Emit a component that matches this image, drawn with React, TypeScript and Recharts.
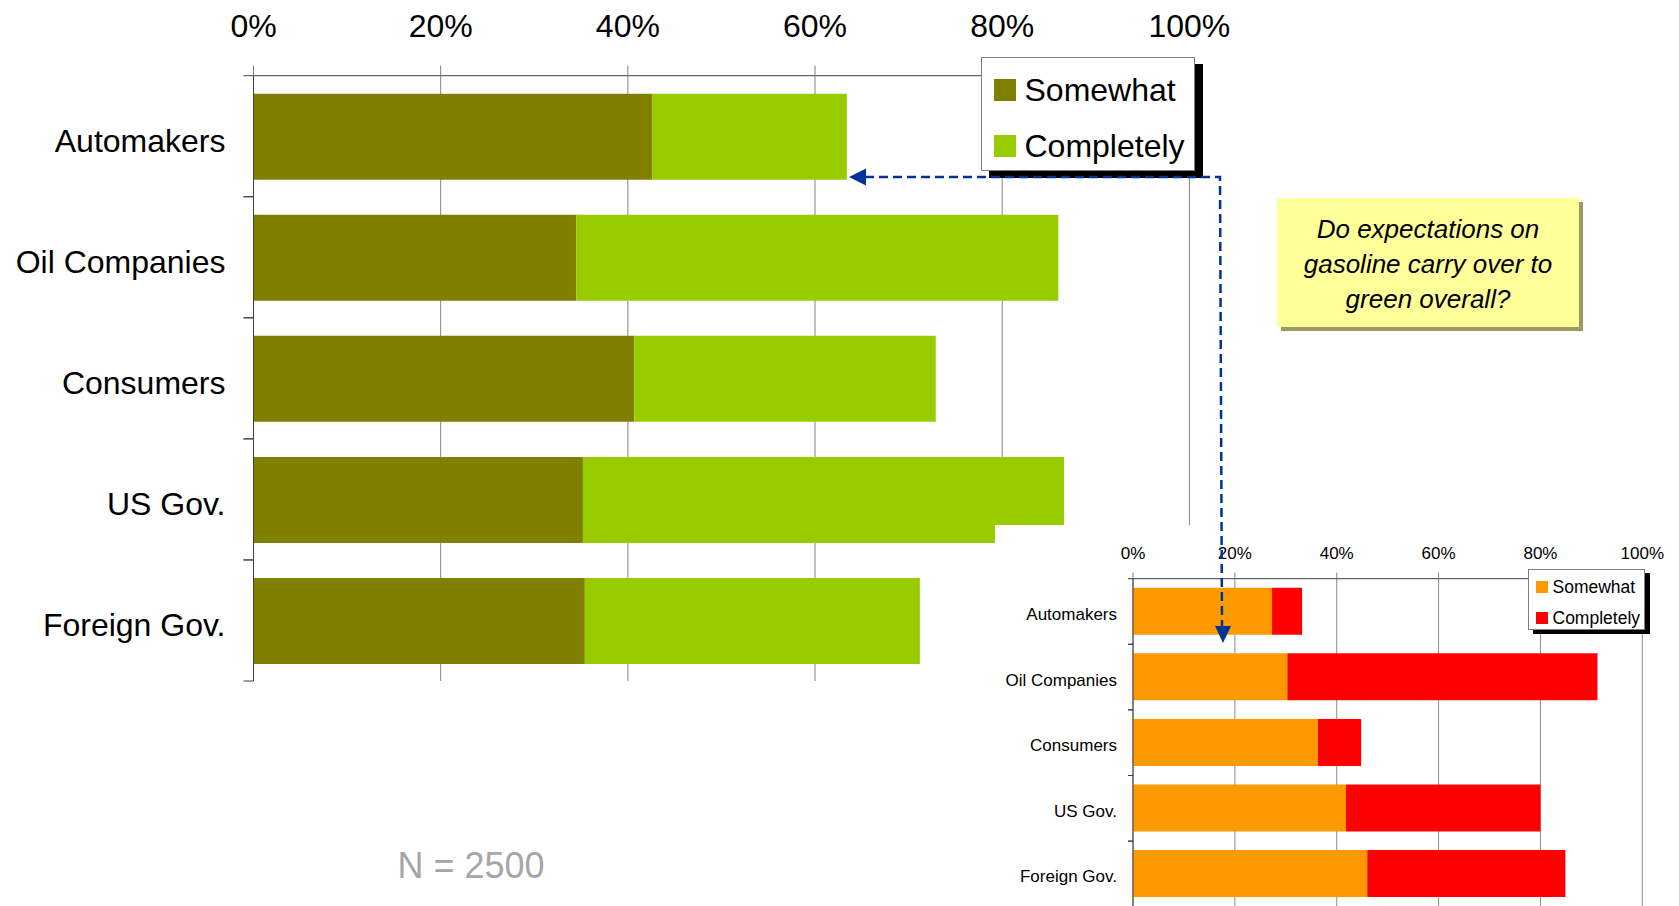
import { BarChart, Bar, XAxis, YAxis, CartesianGrid } from 'recharts'

const FONT = '"Liberation Sans", Arial, sans-serif'

const categories = ['Automakers', 'Oil Companies', 'Consumers', 'US Gov.', 'Foreign Gov.']
const pctTicks = [0, 20, 40, 60, 80, 100]
const seriesNames = ['Somewhat', 'Completely']

// big chart (percent of respondents)
const mainSomewhat = [42.6, 34.5, 40.7, 35.2, 35.4]
const mainCompletely = [20.8, 51.5, 32.2, 51.4, 35.8]
const mainColors = ['#808000', '#99cc00']

// inset chart
const insetSomewhat = [27.3, 30.3, 36.3, 41.8, 46.0]
const insetCompletely = [5.9, 60.9, 8.5, 38.2, 38.9]
const insetColors = ['#ff9900', '#ff0000']

const noteLines = ['Do expectations on', 'gasoline carry over to', 'green overall?']
const sampleNote = 'N = 2500'

const mainData = categories.map((name, i) => ({
  name,
  somewhat: mainSomewhat[i],
  completely: mainCompletely[i],
}))

const insetData = categories.map((name, i) => ({
  name,
  somewhat: insetSomewhat[i],
  completely: insetCompletely[i],
}))

// Excel puts the category tick marks between the bars, so draw them by hand
function CategoryTick(props: any) {
  const { x, y, payload, labelSize, labelGap, tickLen, half, baseShift } = props
  return (
    <g>
      <line x1={x - tickLen} x2={x} y1={y - half} y2={y - half} stroke="#404040" />
      <line x1={x - tickLen} x2={x} y1={y + half} y2={y + half} stroke="#404040" />
      <text
        x={x - labelGap}
        y={y + baseShift}
        textAnchor="end"
        fontSize={labelSize}
        fontFamily={FONT}
        fill="#000"
      >
        {payload.value}
      </text>
    </g>
  )
}

interface LegendBoxProps {
  colors: string[]
  style: React.CSSProperties
  fontSize: number
  swatch: number
  swatchLeft: number
  textLeft: number
  rows: number[]
}

function LegendBox({ colors, style, fontSize, swatch, swatchLeft, textLeft, rows }: LegendBoxProps) {
  return (
    <div
      style={{
        position: 'absolute',
        background: '#fff',
        border: '1px solid #7f7f7f',
        boxSizing: 'border-box',
        ...style,
      }}
    >
      {seriesNames.map((name, i) => (
        <div key={name}>
          <div
            style={{
              position: 'absolute',
              left: swatchLeft,
              top: rows[i] - swatch / 2,
              width: swatch,
              height: swatch,
              background: colors[i],
            }}
          />
          <div
            style={{
              position: 'absolute',
              left: textLeft,
              top: rows[i] - fontSize * 0.6,
              fontSize,
              lineHeight: `${fontSize * 1.2}px`,
              whiteSpace: 'nowrap',
              color: '#000',
            }}
          >
            {name}
          </div>
        </div>
      ))}
    </div>
  )
}

export default function App() {
  const mainHalf = (681 - 75.7) / categories.length / 2
  const insetHalf = 328 / categories.length / 2

  return (
    <div
      style={{
        position: 'absolute',
        left: 0,
        top: 0,
        width: 1679,
        height: 906,
        overflow: 'hidden',
        background: '#fff',
        fontFamily: FONT,
      }}
    >
      {/* Main chart */}
      <div style={{ position: 'absolute', left: 0, top: 0 }}>
        <BarChart
          width={1260}
          height={690}
          data={mainData}
          layout="vertical"
          margin={{ top: 15.7, right: 70.6, bottom: 9, left: 23.5 }}
        >
          <CartesianGrid horizontal={false} stroke="#868686" />
          <XAxis
            type="number"
            orientation="top"
            domain={[0, 100]}
            ticks={pctTicks}
            interval={0}
            tickFormatter={(v) => `${v}%`}
            height={60}
            tickSize={10}
            tickMargin={29}
            tick={{ fontSize: 32, fill: '#000', fontFamily: FONT }}
            axisLine={{ stroke: '#404040' }}
            tickLine={{ stroke: '#808080' }}
          />
          <YAxis
            type="category"
            dataKey="name"
            width={230}
            interval={0}
            tickSize={0}
            tickMargin={0}
            tickLine={false}
            axisLine={{ stroke: '#404040' }}
            tick={(p: any) => (
              <CategoryTick {...p} labelSize={32} labelGap={28} tickLen={10} half={mainHalf} baseShift={16} />
            )}
          />
          <Bar dataKey="somewhat" stackId="s" fill={mainColors[0]} barSize={86} isAnimationActive={false} />
          <Bar dataKey="completely" stackId="s" fill={mainColors[1]} barSize={86} isAnimationActive={false} />
        </BarChart>
      </div>

      <LegendBox
        colors={mainColors}
        style={{ left: 980.5, top: 56.7, width: 214, height: 114, boxShadow: '8px 7px 0 #000' }}
        fontSize={32}
        swatch={22}
        swatchLeft={12}
        textLeft={43}
        rows={[32.3, 88.8]}
      />

      {/* Question box */}
      <div
        style={{
          position: 'absolute',
          left: 1277,
          top: 198,
          width: 302,
          height: 129,
          background: '#ffff99',
          boxShadow: '4px 4px 0 #9c9a62',
          boxSizing: 'border-box',
          paddingTop: 13.5,
          textAlign: 'center',
          fontStyle: 'italic',
          fontSize: 26,
          lineHeight: '35px',
          color: '#000',
        }}
      >
        {noteLines.map((line) => (
          <div key={line}>{line}</div>
        ))}
      </div>

      {/* Inset chart pasted over the main one */}
      <div
        style={{
          position: 'absolute',
          left: 995,
          top: 525,
          width: 684,
          height: 381,
          background: '#fff',
          overflow: 'hidden',
        }}
      >
        <BarChart
          width={684}
          height={382}
          data={insetData}
          layout="vertical"
          margin={{ top: 13.7, right: 36.7, bottom: 0.3, left: 0 }}
        >
          <CartesianGrid horizontal={false} stroke="#8c8c8c" />
          <XAxis
            type="number"
            orientation="top"
            domain={[0, 100]}
            ticks={pctTicks}
            interval={0}
            tickFormatter={(v) => `${v}%`}
            height={40}
            tickSize={6}
            tickMargin={14}
            tick={{ fontSize: 17, fill: '#000', fontFamily: FONT }}
            axisLine={{ stroke: '#404040' }}
            tickLine={{ stroke: '#808080' }}
          />
          <YAxis
            type="category"
            dataKey="name"
            width={138}
            interval={0}
            tickSize={0}
            tickMargin={0}
            tickLine={false}
            axisLine={{ stroke: '#404040' }}
            tick={(p: any) => (
              <CategoryTick {...p} labelSize={17} labelGap={16} tickLen={5} half={insetHalf} baseShift={8.5} />
            )}
          />
          <Bar dataKey="somewhat" stackId="s" fill={insetColors[0]} barSize={47} isAnimationActive={false} />
          <Bar dataKey="completely" stackId="s" fill={insetColors[1]} barSize={47} isAnimationActive={false} />
        </BarChart>
      </div>

      <LegendBox
        colors={insetColors}
        style={{ left: 1528, top: 568.5, width: 116.5, height: 61, boxShadow: '5px 4px 0 #000' }}
        fontSize={17.5}
        swatch={12}
        swatchLeft={7}
        textLeft={23.5}
        rows={[17.5, 48.5]}
      />

      {/* Sample size and connecting arrow */}
      <svg
        width={1679}
        height={906}
        style={{ position: 'absolute', left: 0, top: 0, pointerEvents: 'none' }}
      >
        <text x={471} y={878} textAnchor="middle" fontSize={36} fontFamily={FONT} fill="#a6a6a6">
          {sampleNote}
        </text>
        <polyline
          points="865,177 1220,177 1222,627"
          fill="none"
          stroke="#003399"
          strokeWidth={2.5}
          strokeDasharray="9 5"
        />
        <polygon points="849,177 866,168.5 866,185.5" fill="#003399" />
        <polygon points="1223,643 1215,626 1231,626" fill="#003399" />
      </svg>
    </div>
  )
}
